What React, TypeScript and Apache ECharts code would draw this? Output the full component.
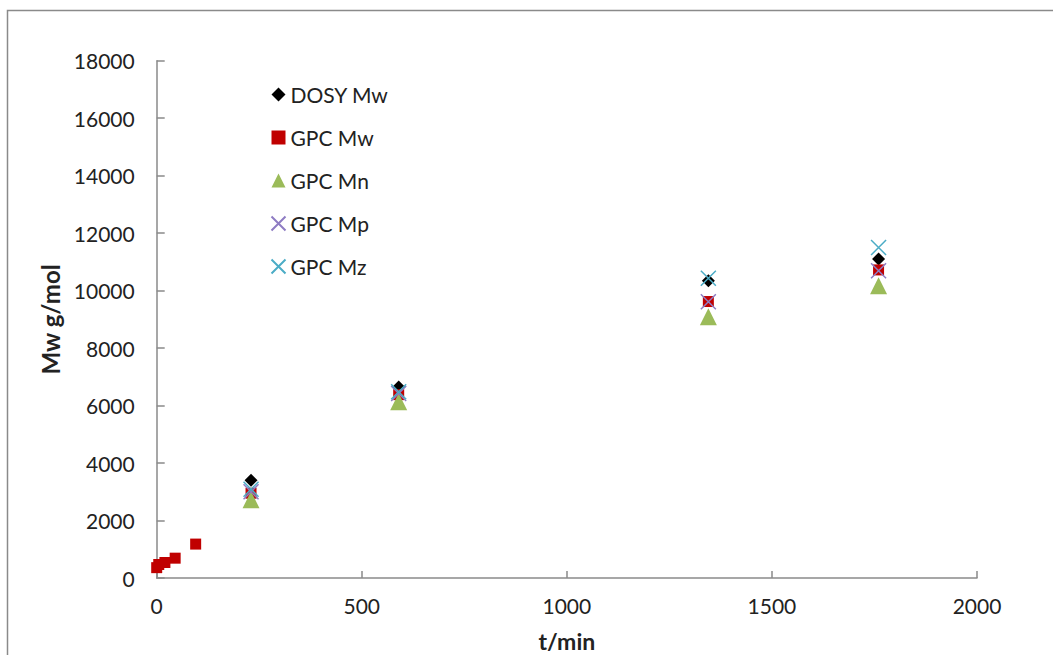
import React, { useEffect, useRef } from "react";
import * as echarts from "echarts";

const dosyT = [230, 590, 1345, 1760];
const dosyMw = [3400, 6650, 10340, 11100];
const gpcMwT = [0, 5, 20, 45, 95, 230, 590, 1345, 1760];
const gpcMw = [360, 470, 540, 690, 1180, 2950, 6380, 9620, 10720];
const gpcT = [230, 590, 1345, 1760];
const gpcMn = [2720, 6130, 9090, 10170];
const gpcMp = [3000, 6420, 9610, 10690];
const gpcMz = [3090, 6480, 10430, 11500];

const xTicks = { min: 0, max: 2000, interval: 500 };
const yTicks = { min: 0, max: 18000, interval: 2000 };

const pair = (xs: number[], ys: number[]) => xs.map((x, i) => [x, ys[i]]);
const FONT = "Lato, 'Liberation Sans', sans-serif";
const X_PATH = "path://M0,0L10,10M10,0L0,10";

export default function App() {
  const ref = useRef<HTMLDivElement>(null);
  useEffect(() => {
    document.body.style.margin = "0";
    const chart = echarts.init(ref.current!, undefined, { renderer: "svg" });
    chart.setOption({
      animation: false,
      backgroundColor: "#fff",
      graphic: [
        {
          type: "rect",
          shape: { x: 7.5, y: 10.5, width: 1200, height: 800 },
          style: { fill: "none", stroke: "#8a8a8a", lineWidth: 1.5 },
          silent: true,
        },
      ],
      grid: {
        left: 156.7,
        right: 76,
        top: 60.7,
        bottom: 77,
        containLabel: false,
        outerBoundsMode: "none",
      },
      legend: {
        orient: "vertical",
        left: 264,
        top: 79,
        itemGap: 22,
        itemWidth: 14,
        itemHeight: 14,
        textStyle: { fontFamily: FONT, fontSize: 21, color: "#222" },
        data: ["DOSY Mw", "GPC Mw", "GPC Mn", "GPC Mp", "GPC Mz"],
      },
      xAxis: {
        type: "value",
        ...xTicks,
        name: "t/min",
        nameLocation: "middle",
        nameGap: 51,
        nameTextStyle: { fontFamily: FONT, fontSize: 23, fontWeight: "bold", color: "#222" },
        axisLine: { show: true, lineStyle: { color: "#8a8a8a", width: 1.5 } },
        axisTick: { show: true, inside: true, length: 7, lineStyle: { color: "#8a8a8a", width: 1.5 } },
        axisLabel: { fontFamily: FONT, fontSize: 21, color: "#222", margin: 17, formatter: (v: number) => String(v) },
        splitLine: { show: false },
      },
      yAxis: {
        type: "value",
        ...yTicks,
        name: "Mw g/mol",
        nameLocation: "middle",
        nameGap: 88,
        nameTextStyle: { fontFamily: FONT, fontSize: 24, fontWeight: "bold", color: "#222" },
        axisLine: { show: true, lineStyle: { color: "#8a8a8a", width: 1.5 } },
        axisTick: { show: true, inside: true, length: 8, lineStyle: { color: "#8a8a8a", width: 1.5 } },
        axisLabel: { fontFamily: FONT, fontSize: 21, color: "#222", margin: 22, formatter: (v: number) => String(v) },
        splitLine: { show: false },
      },
      series: [
        {
          name: "DOSY Mw",
          type: "scatter",
          symbol: "diamond",
          symbolSize: 13,
          itemStyle: { color: "#000", opacity: 1 },
          data: pair(dosyT, dosyMw),
        },
        {
          name: "GPC Mw",
          type: "scatter",
          symbol: "rect",
          symbolSize: 11,
          itemStyle: { color: "#C00000", opacity: 1 },
          data: pair(gpcMwT, gpcMw),
        },
        {
          name: "GPC Mn",
          type: "scatter",
          symbol: "triangle",
          symbolSize: 17,
          itemStyle: { color: "#9BBB59", opacity: 1 },
          data: pair(gpcT, gpcMn),
        },
        {
          name: "GPC Mp",
          type: "scatter",
          symbol: X_PATH,
          symbolSize: 15,
          itemStyle: { color: "none", borderColor: "#8E7CC3", borderWidth: 1.5, opacity: 1 },
          data: pair(gpcT, gpcMp),
        },
        {
          name: "GPC Mz",
          type: "scatter",
          symbol: X_PATH,
          symbolSize: 15,
          itemStyle: { color: "none", borderColor: "#4BACC6", borderWidth: 1.5, opacity: 1 },
          data: pair(gpcT, gpcMz),
        },
      ],
    });
    return () => chart.dispose();
  }, []);
  return <div ref={ref} style={{ width: 1053, height: 655 }} />;
}
